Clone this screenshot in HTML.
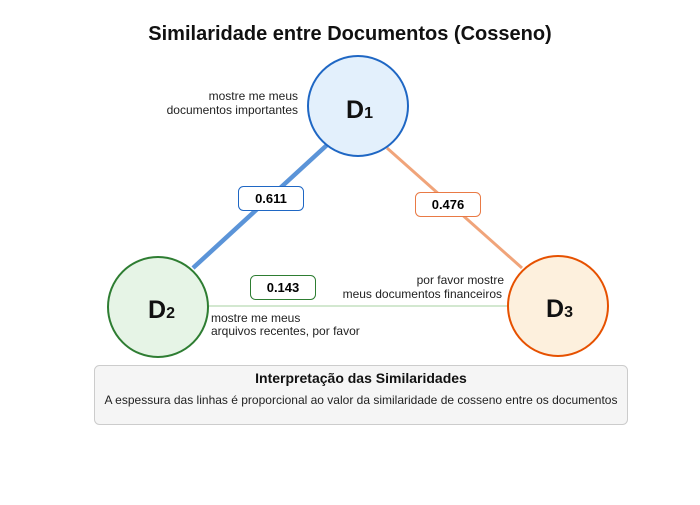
<!DOCTYPE html>
<html><head><style>
body{margin:0;background:#fff;font-family:"Liberation Sans",sans-serif}
</style></head><body>
<svg width="700" height="500" xmlns="http://www.w3.org/2000/svg" font-family="Liberation Sans, sans-serif">
<rect width="700" height="500" fill="#fff"/>
<text x="350" y="40" text-anchor="middle" font-size="20" font-weight="bold" fill="#111">Similaridade entre Documentos (Cosseno)</text>
<line x1="327" y1="145" x2="193" y2="268" stroke="#5b94d8" stroke-width="4.5"/>
<line x1="387" y1="148" x2="522" y2="268" stroke="#f0a47a" stroke-width="3"/>
<line x1="208" y1="306" x2="508" y2="306" stroke="#b9d9b4" stroke-width="1.2"/>
<circle cx="358" cy="106" r="50" fill="#e3f0fc" stroke="#1f67c4" stroke-width="2"/>
<circle cx="158" cy="307" r="50" fill="#e6f4e6" stroke="#2e7d32" stroke-width="2"/>
<circle cx="558" cy="306" r="50" fill="#fdf0dd" stroke="#e65100" stroke-width="2"/>
<text x="346" y="118" font-size="25" font-weight="bold" fill="#111">D<tspan font-size="16">1</tspan></text>
<text x="148" y="318" font-size="25" font-weight="bold" fill="#111">D<tspan font-size="16">2</tspan></text>
<text x="546" y="317" font-size="25" font-weight="bold" fill="#111">D<tspan font-size="16">3</tspan></text>
<g font-size="12" fill="#222">
<text x="298" y="100" text-anchor="end">mostre me meus</text>
<text x="298" y="114" text-anchor="end">documentos importantes</text>
<text x="211" y="322">mostre me meus</text>
<text x="211" y="335">arquivos recentes, por favor</text>
<text x="504" y="284" text-anchor="end">por favor mostre</text>
<text x="502" y="298" text-anchor="end">meus documentos financeiros</text>
</g>
<rect x="238.5" y="186.5" width="65" height="24" rx="5" fill="#fff" stroke="#1f67c4"/>
<text x="271" y="203" text-anchor="middle" font-size="13" font-weight="bold">0.611</text>
<rect x="415.5" y="192.5" width="65" height="24" rx="5" fill="#fff" stroke="#e97a45"/>
<text x="448" y="209" text-anchor="middle" font-size="13" font-weight="bold">0.476</text>
<rect x="250.5" y="275.5" width="65" height="24" rx="5" fill="#fff" stroke="#2e7d32"/>
<text x="283" y="292" text-anchor="middle" font-size="13" font-weight="bold">0.143</text>
<rect x="94.5" y="365.5" width="533" height="59" rx="5" fill="#f5f5f5" stroke="#ccc"/>
<text x="361" y="383" text-anchor="middle" font-size="14" font-weight="bold" fill="#111">Interpretação das Similaridades</text>
<text x="361" y="404" text-anchor="middle" font-size="12" fill="#222">A espessura das linhas é proporcional ao valor da similaridade de cosseno entre os documentos</text>
</svg>
</body></html>
